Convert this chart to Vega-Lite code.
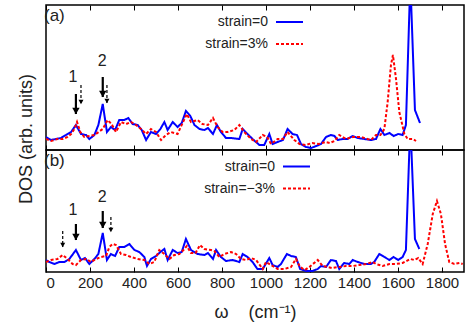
{
  "$schema": "https://vega.github.io/schema/vega-lite/v6.json",
  "padding": {"left": 16, "top": 3, "right": 5, "bottom": 5},
  "bounds": "flush",
  "spacing": 0,
  "config": {
    "font": "Liberation Sans",
    "view": {"stroke": "#000", "strokeWidth": 1.5},
    "axis": {"grid": false, "domain": false, "tickColor": "#000", "tickWidth": 1, "labelColor": "#222", "titleColor": "#222", "labelFontSize": 15, "titleFontSize": 18, "titleFontWeight": "normal"},
    "legend": {"orient": "none", "title": null, "padding": 0, "symbolType": "stroke", "symbolSize": 729, "symbolStrokeWidth": 2, "labelAlign": "right", "labelFontSize": 14, "labelColor": "#222", "symbolOffset": 60, "labelOffset": -36, "rowPadding": -12},
    "title": {"anchor": "start", "frame": "group", "offset": -20, "dx": -2, "fontSize": 17, "fontWeight": "normal", "color": "#222"}
  },
  "datasets": {
    "a": [
      {"series":"strain=0","w":0,"dos":13},{"series":"strain=0","w":23,"dos":10},{"series":"strain=0","w":45,"dos":11},{"series":"strain=0","w":68,"dos":12},{"series":"strain=0","w":91,"dos":15},{"series":"strain=0","w":114,"dos":18},{"series":"strain=0","w":136,"dos":25},{"series":"strain=0","w":159,"dos":16},{"series":"strain=0","w":182,"dos":15},{"series":"strain=0","w":197,"dos":11},{"series":"strain=0","w":220,"dos":15},{"series":"strain=0","w":238,"dos":25},{"series":"strain=0","w":258,"dos":46},{"series":"strain=0","w":277,"dos":18},{"series":"strain=0","w":295,"dos":23},{"series":"strain=0","w":314,"dos":20},{"series":"strain=0","w":333,"dos":30},{"series":"strain=0","w":356,"dos":30},{"series":"strain=0","w":374,"dos":32},{"series":"strain=0","w":394,"dos":26},{"series":"strain=0","w":417,"dos":25},{"series":"strain=0","w":435,"dos":20},{"series":"strain=0","w":455,"dos":10},{"series":"strain=0","w":477,"dos":18},{"series":"strain=0","w":500,"dos":16},{"series":"strain=0","w":520,"dos":21},{"series":"strain=0","w":538,"dos":28},{"series":"strain=0","w":553,"dos":20},{"series":"strain=0","w":576,"dos":28},{"series":"strain=0","w":598,"dos":23},{"series":"strain=0","w":617,"dos":27},{"series":"strain=0","w":636,"dos":39},{"series":"strain=0","w":656,"dos":34},{"series":"strain=0","w":675,"dos":25},{"series":"strain=0","w":698,"dos":21},{"series":"strain=0","w":720,"dos":20},{"series":"strain=0","w":736,"dos":22},{"series":"strain=0","w":759,"dos":16},{"series":"strain=0","w":777,"dos":25},{"series":"strain=0","w":795,"dos":18},{"series":"strain=0","w":818,"dos":12},{"series":"strain=0","w":841,"dos":12},{"series":"strain=0","w":879,"dos":11},{"series":"strain=0","w":894,"dos":21},{"series":"strain=0","w":916,"dos":16},{"series":"strain=0","w":939,"dos":11},{"series":"strain=0","w":970,"dos":5},{"series":"strain=0","w":992,"dos":5},{"series":"strain=0","w":1015,"dos":16},{"series":"strain=0","w":1030,"dos":6},{"series":"strain=0","w":1053,"dos":8},{"series":"strain=0","w":1077,"dos":10},{"series":"strain=0","w":1098,"dos":21},{"series":"strain=0","w":1121,"dos":16},{"series":"strain=0","w":1141,"dos":15},{"series":"strain=0","w":1159,"dos":6},{"series":"strain=0","w":1182,"dos":3},{"series":"strain=0","w":1205,"dos":2},{"series":"strain=0","w":1228,"dos":4},{"series":"strain=0","w":1250,"dos":6},{"series":"strain=0","w":1273,"dos":13},{"series":"strain=0","w":1295,"dos":15},{"series":"strain=0","w":1311,"dos":14},{"series":"strain=0","w":1326,"dos":10},{"series":"strain=0","w":1348,"dos":11},{"series":"strain=0","w":1371,"dos":11},{"series":"strain=0","w":1394,"dos":14},{"series":"strain=0","w":1417,"dos":12},{"series":"strain=0","w":1447,"dos":11},{"series":"strain=0","w":1477,"dos":10},{"series":"strain=0","w":1500,"dos":11},{"series":"strain=0","w":1520,"dos":21},{"series":"strain=0","w":1538,"dos":15},{"series":"strain=0","w":1561,"dos":17},{"series":"strain=0","w":1580,"dos":14},{"series":"strain=0","w":1601,"dos":16},{"series":"strain=0","w":1621,"dos":15},{"series":"strain=0","w":1636,"dos":25},{"series":"strain=0","w":1656,"dos":170},{"series":"strain=0","w":1677,"dos":40},{"series":"strain=0","w":1700,"dos":27},
      {"series":"strain=3%","w":0,"dos":11},{"series":"strain=3%","w":23,"dos":9},{"series":"strain=3%","w":52,"dos":11},{"series":"strain=3%","w":76,"dos":11},{"series":"strain=3%","w":98,"dos":13},{"series":"strain=3%","w":114,"dos":16},{"series":"strain=3%","w":129,"dos":21},{"series":"strain=3%","w":141,"dos":28},{"series":"strain=3%","w":156,"dos":18},{"series":"strain=3%","w":174,"dos":13},{"series":"strain=3%","w":197,"dos":14},{"series":"strain=3%","w":220,"dos":15},{"series":"strain=3%","w":258,"dos":21},{"series":"strain=3%","w":280,"dos":30},{"series":"strain=3%","w":298,"dos":26},{"series":"strain=3%","w":318,"dos":18},{"series":"strain=3%","w":341,"dos":28},{"series":"strain=3%","w":364,"dos":26},{"series":"strain=3%","w":386,"dos":28},{"series":"strain=3%","w":409,"dos":25},{"series":"strain=3%","w":432,"dos":21},{"series":"strain=3%","w":455,"dos":16},{"series":"strain=3%","w":477,"dos":21},{"series":"strain=3%","w":500,"dos":18},{"series":"strain=3%","w":523,"dos":10},{"series":"strain=3%","w":545,"dos":15},{"series":"strain=3%","w":568,"dos":18},{"series":"strain=3%","w":598,"dos":16},{"series":"strain=3%","w":621,"dos":27},{"series":"strain=3%","w":640,"dos":36},{"series":"strain=3%","w":659,"dos":28},{"series":"strain=3%","w":689,"dos":30},{"series":"strain=3%","w":711,"dos":26},{"series":"strain=3%","w":736,"dos":25},{"series":"strain=3%","w":759,"dos":32},{"series":"strain=3%","w":780,"dos":23},{"series":"strain=3%","w":803,"dos":18},{"series":"strain=3%","w":826,"dos":18},{"series":"strain=3%","w":856,"dos":20},{"series":"strain=3%","w":879,"dos":25},{"series":"strain=3%","w":901,"dos":18},{"series":"strain=3%","w":932,"dos":11},{"series":"strain=3%","w":955,"dos":8},{"series":"strain=3%","w":985,"dos":15},{"series":"strain=3%","w":1005,"dos":13},{"series":"strain=3%","w":1023,"dos":6},{"series":"strain=3%","w":1053,"dos":11},{"series":"strain=3%","w":1077,"dos":11},{"series":"strain=3%","w":1098,"dos":18},{"series":"strain=3%","w":1129,"dos":10},{"series":"strain=3%","w":1152,"dos":6},{"series":"strain=3%","w":1180,"dos":5},{"series":"strain=3%","w":1210,"dos":7},{"series":"strain=3%","w":1240,"dos":6},{"series":"strain=3%","w":1270,"dos":8},{"series":"strain=3%","w":1290,"dos":7},{"series":"strain=3%","w":1311,"dos":9},{"series":"strain=3%","w":1333,"dos":15},{"series":"strain=3%","w":1364,"dos":11},{"series":"strain=3%","w":1394,"dos":13},{"series":"strain=3%","w":1432,"dos":13},{"series":"strain=3%","w":1477,"dos":10},{"series":"strain=3%","w":1500,"dos":15},{"series":"strain=3%","w":1520,"dos":15},{"series":"strain=3%","w":1538,"dos":21},{"series":"strain=3%","w":1553,"dos":48},{"series":"strain=3%","w":1568,"dos":85},{"series":"strain=3%","w":1577,"dos":95},{"series":"strain=3%","w":1591,"dos":71},{"series":"strain=3%","w":1606,"dos":38},{"series":"strain=3%","w":1629,"dos":16},{"series":"strain=3%","w":1644,"dos":11},{"series":"strain=3%","w":1667,"dos":11},{"series":"strain=3%","w":1682,"dos":9}
    ],
    "b": [
      {"series":"strain=0","w":0,"dos":12},{"series":"strain=0","w":15,"dos":10},{"series":"strain=0","w":38,"dos":8},{"series":"strain=0","w":61,"dos":10},{"series":"strain=0","w":83,"dos":10},{"series":"strain=0","w":106,"dos":13},{"series":"strain=0","w":136,"dos":22},{"series":"strain=0","w":159,"dos":12},{"series":"strain=0","w":177,"dos":14},{"series":"strain=0","w":197,"dos":8},{"series":"strain=0","w":220,"dos":13},{"series":"strain=0","w":238,"dos":18},{"series":"strain=0","w":258,"dos":39},{"series":"strain=0","w":277,"dos":12},{"series":"strain=0","w":295,"dos":18},{"series":"strain=0","w":314,"dos":16},{"series":"strain=0","w":333,"dos":25},{"series":"strain=0","w":356,"dos":25},{"series":"strain=0","w":379,"dos":28},{"series":"strain=0","w":402,"dos":22},{"series":"strain=0","w":424,"dos":20},{"series":"strain=0","w":447,"dos":15},{"series":"strain=0","w":459,"dos":6},{"series":"strain=0","w":477,"dos":13},{"series":"strain=0","w":500,"dos":16},{"series":"strain=0","w":520,"dos":20},{"series":"strain=0","w":538,"dos":23},{"series":"strain=0","w":553,"dos":12},{"series":"strain=0","w":576,"dos":22},{"series":"strain=0","w":598,"dos":19},{"series":"strain=0","w":617,"dos":20},{"series":"strain=0","w":636,"dos":33},{"series":"strain=0","w":659,"dos":22},{"series":"strain=0","w":689,"dos":18},{"series":"strain=0","w":720,"dos":17},{"series":"strain=0","w":736,"dos":19},{"series":"strain=0","w":759,"dos":13},{"series":"strain=0","w":773,"dos":22},{"series":"strain=0","w":795,"dos":15},{"series":"strain=0","w":818,"dos":11},{"series":"strain=0","w":848,"dos":12},{"series":"strain=0","w":879,"dos":10},{"series":"strain=0","w":894,"dos":18},{"series":"strain=0","w":916,"dos":15},{"series":"strain=0","w":939,"dos":10},{"series":"strain=0","w":961,"dos":3},{"series":"strain=0","w":985,"dos":3},{"series":"strain=0","w":1015,"dos":14},{"series":"strain=0","w":1030,"dos":7},{"series":"strain=0","w":1053,"dos":5},{"series":"strain=0","w":1068,"dos":8},{"series":"strain=0","w":1095,"dos":18},{"series":"strain=0","w":1114,"dos":16},{"series":"strain=0","w":1136,"dos":15},{"series":"strain=0","w":1155,"dos":3},{"series":"strain=0","w":1182,"dos":1},{"series":"strain=0","w":1211,"dos":1},{"series":"strain=0","w":1235,"dos":3},{"series":"strain=0","w":1250,"dos":6},{"series":"strain=0","w":1273,"dos":5},{"series":"strain=0","w":1295,"dos":12},{"series":"strain=0","w":1318,"dos":11},{"series":"strain=0","w":1333,"dos":3},{"series":"strain=0","w":1355,"dos":9},{"series":"strain=0","w":1379,"dos":8},{"series":"strain=0","w":1394,"dos":12},{"series":"strain=0","w":1417,"dos":10},{"series":"strain=0","w":1447,"dos":8},{"series":"strain=0","w":1477,"dos":8},{"series":"strain=0","w":1492,"dos":10},{"series":"strain=0","w":1515,"dos":18},{"series":"strain=0","w":1538,"dos":15},{"series":"strain=0","w":1561,"dos":12},{"series":"strain=0","w":1580,"dos":15},{"series":"strain=0","w":1601,"dos":12},{"series":"strain=0","w":1621,"dos":15},{"series":"strain=0","w":1636,"dos":22},{"series":"strain=0","w":1656,"dos":150},{"series":"strain=0","w":1677,"dos":33},{"series":"strain=0","w":1697,"dos":23},
      {"series":"strain=−3%","w":0,"dos":10},{"series":"strain=−3%","w":23,"dos":12},{"series":"strain=−3%","w":52,"dos":13},{"series":"strain=−3%","w":76,"dos":17},{"series":"strain=−3%","w":98,"dos":13},{"series":"strain=−3%","w":121,"dos":8},{"series":"strain=−3%","w":136,"dos":7},{"series":"strain=−3%","w":159,"dos":12},{"series":"strain=−3%","w":182,"dos":13},{"series":"strain=−3%","w":205,"dos":10},{"series":"strain=−3%","w":227,"dos":13},{"series":"strain=−3%","w":250,"dos":15},{"series":"strain=−3%","w":273,"dos":16},{"series":"strain=−3%","w":288,"dos":25},{"series":"strain=−3%","w":303,"dos":28},{"series":"strain=−3%","w":318,"dos":27},{"series":"strain=−3%","w":341,"dos":18},{"series":"strain=−3%","w":364,"dos":17},{"series":"strain=−3%","w":386,"dos":15},{"series":"strain=−3%","w":417,"dos":13},{"series":"strain=−3%","w":447,"dos":12},{"series":"strain=−3%","w":470,"dos":8},{"series":"strain=−3%","w":492,"dos":10},{"series":"strain=−3%","w":515,"dos":22},{"series":"strain=−3%","w":538,"dos":18},{"series":"strain=−3%","w":561,"dos":13},{"series":"strain=−3%","w":583,"dos":17},{"series":"strain=−3%","w":606,"dos":18},{"series":"strain=−3%","w":625,"dos":22},{"series":"strain=−3%","w":640,"dos":26},{"series":"strain=−3%","w":659,"dos":19},{"series":"strain=−3%","w":680,"dos":19},{"series":"strain=−3%","w":700,"dos":27},{"series":"strain=−3%","w":720,"dos":23},{"series":"strain=−3%","w":750,"dos":22},{"series":"strain=−3%","w":765,"dos":21},{"series":"strain=−3%","w":788,"dos":15},{"series":"strain=−3%","w":811,"dos":18},{"series":"strain=−3%","w":841,"dos":20},{"series":"strain=−3%","w":864,"dos":18},{"series":"strain=−3%","w":886,"dos":13},{"series":"strain=−3%","w":909,"dos":12},{"series":"strain=−3%","w":932,"dos":14},{"series":"strain=−3%","w":955,"dos":12},{"series":"strain=−3%","w":985,"dos":3},{"series":"strain=−3%","w":1000,"dos":10},{"series":"strain=−3%","w":1023,"dos":7},{"series":"strain=−3%","w":1053,"dos":3},{"series":"strain=−3%","w":1083,"dos":3},{"series":"strain=−3%","w":1114,"dos":5},{"series":"strain=−3%","w":1136,"dos":13},{"series":"strain=−3%","w":1155,"dos":5},{"series":"strain=−3%","w":1177,"dos":2},{"series":"strain=−3%","w":1197,"dos":5},{"series":"strain=−3%","w":1235,"dos":12},{"series":"strain=−3%","w":1258,"dos":6},{"series":"strain=−3%","w":1280,"dos":5},{"series":"strain=−3%","w":1300,"dos":4},{"series":"strain=−3%","w":1333,"dos":5},{"series":"strain=−3%","w":1364,"dos":6},{"series":"strain=−3%","w":1394,"dos":6},{"series":"strain=−3%","w":1424,"dos":7},{"series":"strain=−3%","w":1455,"dos":8},{"series":"strain=−3%","w":1485,"dos":10},{"series":"strain=−3%","w":1500,"dos":8},{"series":"strain=−3%","w":1530,"dos":6},{"series":"strain=−3%","w":1561,"dos":8},{"series":"strain=−3%","w":1590,"dos":8},{"series":"strain=−3%","w":1621,"dos":9},{"series":"strain=−3%","w":1656,"dos":13},{"series":"strain=−3%","w":1674,"dos":12},{"series":"strain=−3%","w":1692,"dos":14},{"series":"strain=−3%","w":1712,"dos":8},{"series":"strain=−3%","w":1735,"dos":28},{"series":"strain=−3%","w":1758,"dos":58},{"series":"strain=−3%","w":1777,"dos":71},{"series":"strain=−3%","w":1795,"dos":58},{"series":"strain=−3%","w":1814,"dos":28},{"series":"strain=−3%","w":1833,"dos":10},{"series":"strain=−3%","w":1856,"dos":8},{"series":"strain=−3%","w":1879,"dos":9},{"series":"strain=−3%","w":1894,"dos":8}
    ],
    "arrows_a": [
      {"w":136,"top":56,"tip":36,"kind":"solid"},
      {"w":159,"top":65,"tip":46,"kind":"dashed"},
      {"w":258,"top":73,"tip":53,"kind":"solid"},
      {"w":277,"top":65,"tip":47,"kind":"dashed"}
    ],
    "arrows_b": [
      {"w":76,"top":41,"tip":25,"kind":"dashed"},
      {"w":136,"top":48,"tip":32,"kind":"solid"},
      {"w":258,"top":61,"tip":44,"kind":"solid"},
      {"w":295,"top":55,"tip":40,"kind":"dashed"}
    ],
    "labels_a": [{"w":123,"dos":73,"t":"1"},{"w":255,"dos":89,"t":"2"}],
    "labels_b": [{"w":123,"dos":62,"t":"1"},{"w":255,"dos":75,"t":"2"}]
  },
  "vconcat": [
    {
      "width": 418, "height": 145,
      "title": {"text": "(a)"},
      "layer": [
        {
          "data": {"name": "a"},
          "mark": {"type": "line", "strokeWidth": 2, "clip": true},
          "encoding": {
            "x": {"field": "w", "type": "quantitative", "scale": {"domain": [0, 1900], "nice": false}, "axis": {"orient": "bottom", "values": [0,200,400,600,800,1000,1200,1400,1600,1800], "labels": false, "tickSize": -5, "title": null}},
            "y": {"field": "dos", "type": "quantitative", "scale": {"domain": [0, 145], "nice": false}, "axis": {"title": "DOS (arb. units)", "ticks": false, "labels": false, "titleX": -11, "titleY": 133.5}},
            "color": {"field": "series", "type": "nominal", "scale": {"domain": ["strain=0", "strain=3%"], "range": ["#0000ff", "#ff0000"]}, "legend": {"legendX": 169, "legendY": 2.5}},
            "strokeDash": {"field": "series", "type": "nominal", "scale": {"domain": ["strain=0", "strain=3%"], "range": [[1, 0], [3, 2]]}, "legend": {"legendX": 169, "legendY": 2.5}}
          }
        },
        {
          "data": {"name": "arrows_a"},
          "transform": [{"filter": "datum.kind == 'solid'"}],
          "mark": {"type": "rule", "color": "#000", "strokeWidth": 2.2},
          "encoding": {
            "x": {"field": "w", "type": "quantitative", "axis": null},
            "y": {"field": "top", "type": "quantitative", "axis": {"title": "DOS (arb. units)", "ticks": false, "labels": false, "titleX": -11, "titleY": 133.5}},
            "y2": {"field": "tip"}
          }
        },
        {
          "data": {"name": "arrows_a"},
          "transform": [{"filter": "datum.kind == 'dashed'"}],
          "mark": {"type": "rule", "color": "#000", "strokeWidth": 1.2, "strokeDash": [3, 2]},
          "encoding": {
            "x": {"field": "w", "type": "quantitative", "axis": null},
            "y": {"field": "top", "type": "quantitative", "axis": {"title": "DOS (arb. units)", "ticks": false, "labels": false, "titleX": -11, "titleY": 133.5}},
            "y2": {"field": "tip"}
          }
        },
        {
          "data": {"name": "arrows_a"},
          "transform": [{"filter": "datum.kind == 'solid'"}],
          "mark": {"type": "point", "shape": "triangle-down", "filled": true, "color": "#000", "opacity": 1, "size": 55, "yOffset": -3},
          "encoding": {
            "x": {"field": "w", "type": "quantitative", "axis": null},
            "y": {"field": "tip", "type": "quantitative", "axis": {"title": "DOS (arb. units)", "ticks": false, "labels": false, "titleX": -11, "titleY": 133.5}}
          }
        },
        {
          "data": {"name": "arrows_a"},
          "transform": [{"filter": "datum.kind == 'dashed'"}],
          "mark": {"type": "point", "shape": "triangle-down", "filled": true, "color": "#000", "opacity": 1, "size": 25, "yOffset": -2},
          "encoding": {
            "x": {"field": "w", "type": "quantitative", "axis": null},
            "y": {"field": "tip", "type": "quantitative", "axis": {"title": "DOS (arb. units)", "ticks": false, "labels": false, "titleX": -11, "titleY": 133.5}}
          }
        },
        {
          "data": {"name": "labels_a"},
          "mark": {"type": "text", "fontSize": 16, "color": "#222"},
          "encoding": {
            "x": {"field": "w", "type": "quantitative", "axis": {"orient": "top", "values": [0,200,400,600,800,1000,1200,1400,1600,1800], "labels": false, "tickSize": -5, "title": null}},
            "y": {"field": "dos", "type": "quantitative", "axis": {"title": "DOS (arb. units)", "ticks": false, "labels": false, "titleX": -11, "titleY": 133.5}},
            "text": {"field": "t"}
          }
        }
      ],
      "resolve": {"axis": {"x": "independent"}}
    },
    {
      "width": 418, "height": 122,
      "title": {"text": "(b)"},
      "layer": [
        {
          "data": {"name": "b"},
          "mark": {"type": "line", "strokeWidth": 2, "clip": true},
          "encoding": {
            "x": {"field": "w", "type": "quantitative", "scale": {"domain": [0, 1900], "nice": false}, "axis": {"orient": "bottom", "values": [0,200,400,600,800,1000,1200,1400,1600,1800], "format": "d", "tickSize": -5, "labelPadding": 8, "title": "ω\u00a0\u00a0\u00a0\u00a0(cm⁻¹)", "titlePadding": 13}},
            "y": {"field": "dos", "type": "quantitative", "scale": {"domain": [0, 122], "nice": false}, "axis": null},
            "color": {"field": "series", "type": "nominal", "scale": {"domain": ["strain=0", "strain=−3%"], "range": ["#0000ff", "#ff0000"]}, "legend": {"legendX": 176, "legendY": 2}},
            "strokeDash": {"field": "series", "type": "nominal", "scale": {"domain": ["strain=0", "strain=−3%"], "range": [[1, 0], [3, 2]]}, "legend": {"legendX": 176, "legendY": 2}}
          }
        },
        {
          "data": {"name": "arrows_b"},
          "transform": [{"filter": "datum.kind == 'solid'"}],
          "mark": {"type": "rule", "color": "#000", "strokeWidth": 2.2},
          "encoding": {
            "x": {"field": "w", "type": "quantitative", "axis": null},
            "y": {"field": "top", "type": "quantitative", "axis": null},
            "y2": {"field": "tip"}
          }
        },
        {
          "data": {"name": "arrows_b"},
          "transform": [{"filter": "datum.kind == 'dashed'"}],
          "mark": {"type": "rule", "color": "#000", "strokeWidth": 1.2, "strokeDash": [3, 2]},
          "encoding": {
            "x": {"field": "w", "type": "quantitative", "axis": null},
            "y": {"field": "top", "type": "quantitative", "axis": null},
            "y2": {"field": "tip"}
          }
        },
        {
          "data": {"name": "arrows_b"},
          "transform": [{"filter": "datum.kind == 'solid'"}],
          "mark": {"type": "point", "shape": "triangle-down", "filled": true, "color": "#000", "opacity": 1, "size": 55, "yOffset": -3},
          "encoding": {
            "x": {"field": "w", "type": "quantitative", "axis": null},
            "y": {"field": "tip", "type": "quantitative", "axis": null}
          }
        },
        {
          "data": {"name": "arrows_b"},
          "transform": [{"filter": "datum.kind == 'dashed'"}],
          "mark": {"type": "point", "shape": "triangle-down", "filled": true, "color": "#000", "opacity": 1, "size": 25, "yOffset": -2},
          "encoding": {
            "x": {"field": "w", "type": "quantitative", "axis": null},
            "y": {"field": "tip", "type": "quantitative", "axis": null}
          }
        },
        {
          "data": {"name": "labels_b"},
          "mark": {"type": "text", "fontSize": 16, "color": "#222"},
          "encoding": {
            "x": {"field": "w", "type": "quantitative", "axis": {"orient": "top", "values": [0,200,400,600,800,1000,1200,1400,1600,1800], "labels": false, "tickSize": -5, "title": null}},
            "y": {"field": "dos", "type": "quantitative", "axis": null},
            "text": {"field": "t"}
          }
        }
      ],
      "resolve": {"axis": {"x": "independent"}}
    }
  ],
  "resolve": {"scale": {"color": "independent", "strokeDash": "independent", "y": "independent"}}
}
